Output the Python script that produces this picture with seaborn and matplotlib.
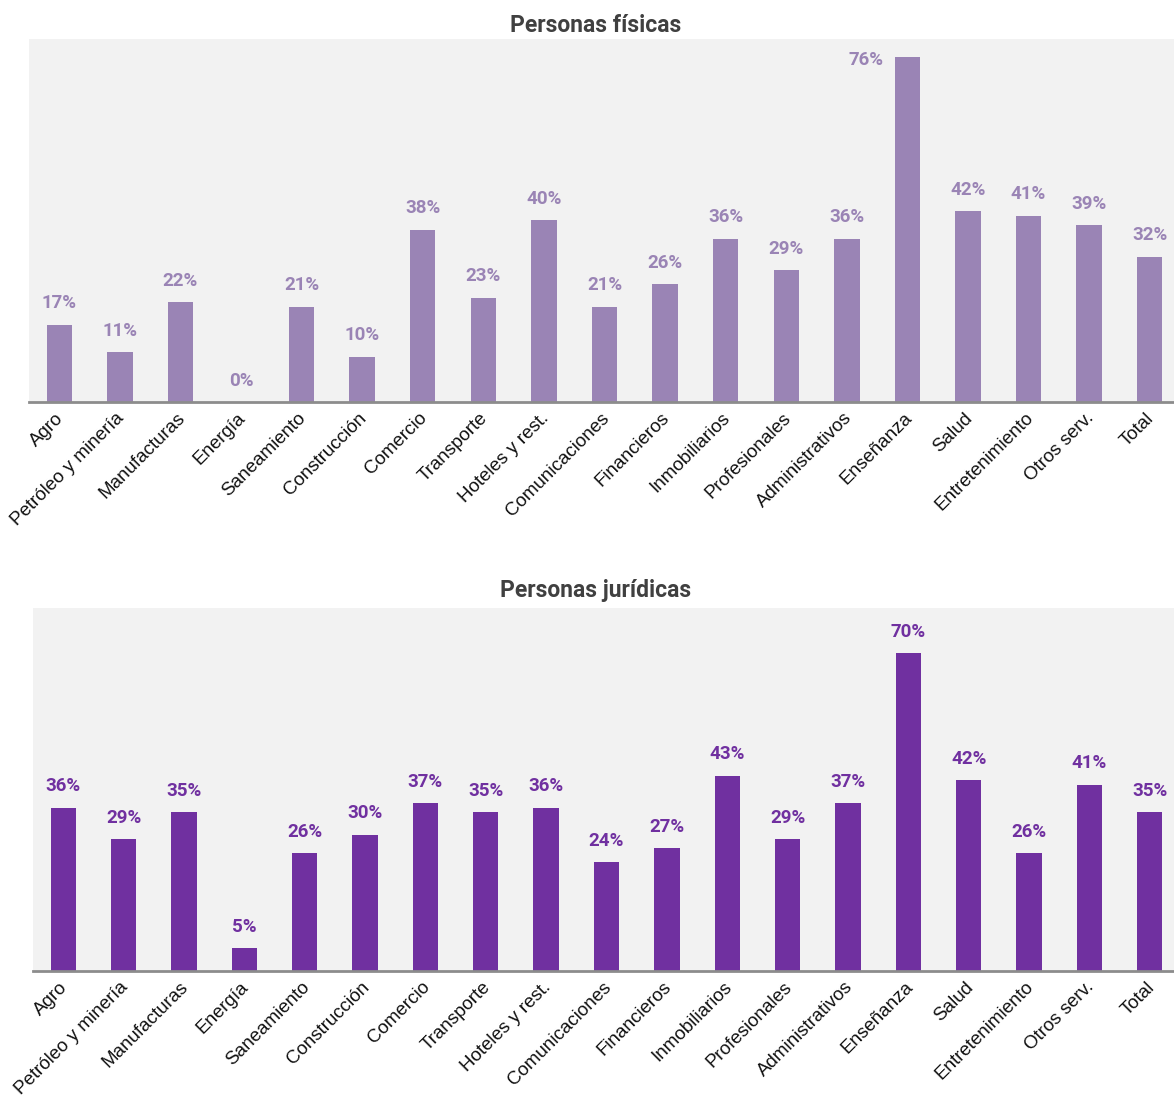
import matplotlib
matplotlib.use("Agg")
import matplotlib.pyplot as plt
import matplotlib.transforms as mtransforms
import seaborn as sns
import pandas as pd

sectores = ["Agro", "Petróleo y minería", "Manufacturas", "Energía", "Saneamiento",
            "Construcción", "Comercio", "Transporte", "Hoteles y rest.", "Comunicaciones",
            "Financieros", "Inmobiliarios", "Profesionales", "Administrativos", "Enseñanza",
            "Salud", "Entretenimiento", "Otros serv.", "Total"]
fisicas = [17, 11, 22, 0, 21, 10, 38, 23, 40, 21, 26, 36, 29, 36, 76, 42, 41, 39, 32]
juridicas = [36, 29, 35, 5, 26, 30, 37, 35, 36, 24, 27, 43, 29, 37, 70, 42, 26, 41, 35]

sns.set_style("white")
plt.rcParams["font.family"] = ["Roboto", "DejaVu Sans"]

W, H = 1174, 1097
fig = plt.figure(figsize=(W / 100, H / 100), dpi=100)

# the plot area runs slightly past the right edge of the image
panels = [
    ("Personas físicas", fisicas, "#9a84b5", (29, 1180, 39, 402), 25),
    ("Personas jurídicas", juridicas, "#7030a0", (33, 1180, 608, 971), 591),
]

for title, vals, color, (x0, x1, y0, y1), ty in panels:
    ax = fig.add_axes([x0 / W, 1 - y1 / H, (x1 - x0) / W, (y1 - y0) / H])
    df = pd.DataFrame({"sector": sectores, "pct": vals})
    sns.barplot(data=df, x="sector", y="pct", color=color, width=0.42,
                saturation=1, linewidth=0, ax=ax)
    ax.set_facecolor("#f2f2f2")
    ax.set_ylim(0, 80)
    ax.set_xlim(-0.5, len(sectores) - 0.5)
    ax.set_xlabel("")
    ax.set_ylabel("")
    ax.set_yticks([])
    for s in ["top", "right", "left"]:
        ax.spines[s].set_visible(False)
    ax.spines["bottom"].set_color("#8c8c8c")
    ax.spines["bottom"].set_linewidth(2)
    ax.tick_params(axis="x", length=0, pad=4)
    ax.set_xticks(range(len(sectores)))
    ax.set_xticklabels(sectores, rotation=45, ha="right", rotation_mode="anchor",
                       fontsize=13.5, family="Liberation Sans", color="#111111")
    shift = mtransforms.ScaledTranslation(-4 / 100, -2 / 100, fig.dpi_scale_trans)
    for lbl in ax.get_xticklabels():
        lbl.set_transform(lbl.get_transform() + shift)

    for i, v in enumerate(vals):
        if v >= 75:
            # label to the left of the tallest bar so it stays inside the panel
            ax.annotate(f"{v}%", (i - 0.21, v), xytext=(-8, -2), textcoords="offset points",
                        ha="right", va="center", fontsize=13.5, fontweight="bold", color=color)
        else:
            ax.annotate(f"{v}%", (i, v), xytext=(0, 9), textcoords="offset points",
                        ha="center", va="bottom", fontsize=13.5, fontweight="bold", color=color)

    fig.text(596 / W, 1 - ty / H, title, ha="center", va="center",
             fontsize=16.5, fontweight="bold", color="#404040")

fig.savefig("out.png", dpi=100)
plt.close(fig)
